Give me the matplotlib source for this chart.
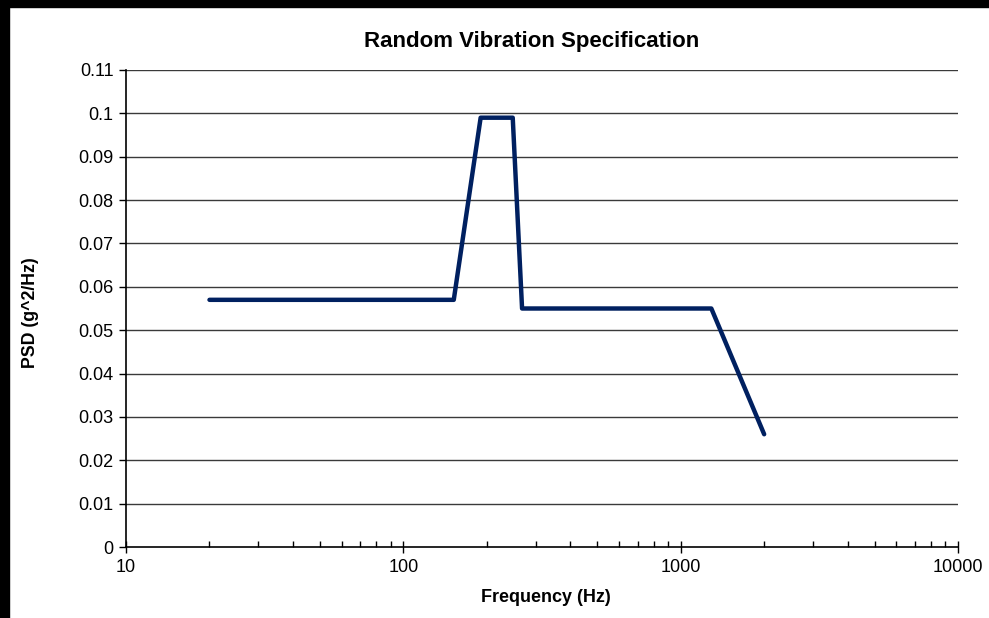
import matplotlib.pyplot as plt
from matplotlib.patches import Rectangle
from matplotlib.ticker import FixedLocator, NullFormatter

plt.rcParams['font.family'] = ['Liberation Sans', 'DejaVu Sans']

# spec breakpoints
freq_hz = [20, 152, 190, 248, 268, 1290, 2000]
psd = [0.057, 0.057, 0.099, 0.099, 0.055, 0.055, 0.026]

y_ticks = [0, 0.01, 0.02, 0.03, 0.04, 0.05, 0.06, 0.07, 0.08, 0.09, 0.1, 0.11]
y_labels = ['0', '0.01', '0.02', '0.03', '0.04', '0.05', '0.06', '0.07', '0.08', '0.09', '0.1', '0.11']
x_ticks = [10, 100, 1000, 10000]

W, H = 989, 618
fig = plt.figure(figsize=(W / 100, H / 100), dpi=100)
# black frame strips along top and left edges
fig.patches.append(Rectangle((0, 1 - 7 / H), 1, 7 / H, transform=fig.transFigure,
                             color='black', zorder=0))
fig.patches.append(Rectangle((0, 0), 9 / W, 1, transform=fig.transFigure,
                             color='black', zorder=0))

ax = fig.add_axes([126 / W, 1 - 547 / H, (958 - 126) / W, (547 - 70) / H])

for y in y_ticks[1:]:
    ax.axhline(y, color='#3a3a3a', lw=1.0, zorder=1)

ax.plot(freq_hz, psd, color='#002060', lw=3.2, solid_joinstyle='round',
        solid_capstyle='round', zorder=3)

ax.set_xscale('log')
ax.set_xlim(10, 10000)
ax.set_ylim(0, 0.11)
ax.set_xticks(x_ticks)
ax.set_xticklabels([str(x) for x in x_ticks])
ax.xaxis.set_minor_locator(FixedLocator([m * d for d in (10, 100, 1000) for m in range(2, 10)]))
ax.xaxis.set_minor_formatter(NullFormatter())
ax.set_yticks(y_ticks)
ax.set_yticklabels(y_labels)

ax.tick_params(axis='x', which='major', direction='inout', length=8, width=1, labelsize=13, pad=5)
ax.tick_params(axis='x', which='minor', direction='in', length=4, width=1)
ax.tick_params(axis='y', which='major', direction='out', length=5, width=1, labelsize=13, pad=4)

for side in ('top', 'right'):
    ax.spines[side].set_visible(False)
for side in ('left', 'bottom'):
    ax.spines[side].set_linewidth(1.2)

fig.text(532 / W, 1 - 41 / H, 'Random Vibration Specification', fontsize=16,
         fontweight='bold', ha='center', va='center')
fig.text(546 / W, 1 - 597 / H, 'Frequency (Hz)', fontsize=13,
         fontweight='bold', ha='center', va='center')
fig.text(31 / W, 1 - 313 / H, 'PSD (g^2/Hz)', fontsize=12.8, fontweight='bold',
         rotation=90, ha='center', va='center')

fig.savefig('out.png', dpi=100)
